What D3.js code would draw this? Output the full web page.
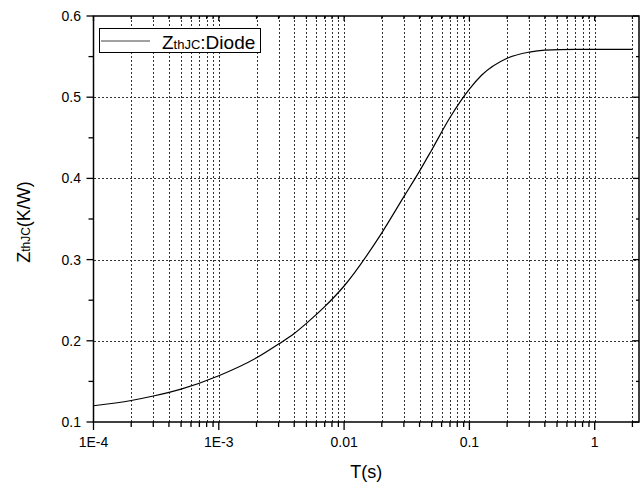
<!DOCTYPE html>
<meta charset="utf-8">
<style>
body { margin: 0; background: #fff; }
svg { font-family: "Liberation Sans", Arial, sans-serif; }
.grid line { stroke: #333; stroke-width: 1; stroke-dasharray: 2,2; shape-rendering: crispEdges; }
.frame { fill: none; stroke: #000; stroke-width: 1.5; }
.tick-lbl { font-size: 14px; fill: #000; }
</style>
<svg width="640" height="483"></svg>
<script src="https://d3js.org/d3.v7.min.js"></script>
<script>

// curve Zth(j-c) of the diode
var tValues   = [1e-4, 2e-4, 3e-4, 5e-4, 1e-3, 2e-3, 3e-3, 4e-3, 5e-3, 7e-3, 0.01, 0.02, 0.03, 0.04, 0.05, 0.07, 0.1, 0.125, 0.2, 0.3, 0.4, 0.7, 1, 2];
var zthValues = [0.120, 0.1265, 0.132, 0.1405, 0.157, 0.179, 0.196, 0.209, 0.2215, 0.242, 0.2675, 0.333, 0.3775, 0.409, 0.435, 0.475, 0.510, 0.527, 0.548, 0.5555, 0.558, 0.559, 0.559, 0.559];

var xMajor = [1e-4, 1e-3, 0.01, 0.1, 1];
var xMajorLabels = ["1E-4", "1E-3", "0.01", "0.1", "1"];
var yMajor = [0.1, 0.2, 0.3, 0.4, 0.5, 0.6];
var yMajorLabels = ["0.1", "0.2", "0.3", "0.4", "0.5", "0.6"];
var yMinor = [0.15, 0.25, 0.35, 0.45, 0.55];

var svg = d3.select("svg");
var pLeft = 93.5, pRight = 639, pTop = 16, pBottom = 422;

var x = d3.scaleLog().domain([1e-4, 2.257]).range([pLeft, pRight]);
var y = d3.scaleLinear().domain([0.1, 0.6]).range([pBottom, pTop]);

var xAll = x.ticks().filter(function(d) { return d <= 2.01; });
var isMajor = function(d) { return xMajor.some(function(m) { return Math.abs(m - d) / m < 1e-6; }); };

// grid
var grid = svg.append("g").attr("class", "grid");
grid.selectAll(".vg")
    .data(xAll.filter(function(d) { return d > 1e-4; }))
  .enter().append("line")
    .attr("x1", function(d) { return Math.round(x(d)) + 0.5; })
    .attr("x2", function(d) { return Math.round(x(d)) + 0.5; })
    .attr("y1", pTop).attr("y2", pBottom);
grid.selectAll(".hg")
    .data(yMajor.slice(1, 5))
  .enter().append("line")
    .attr("x1", pLeft).attr("x2", pRight)
    .attr("y1", function(d) { return Math.round(y(d)) + 0.5; })
    .attr("y2", function(d) { return Math.round(y(d)) + 0.5; });

// curve
var line = d3.line()
    .x(function(d, i) { return x(tValues[i]); })
    .y(function(d) { return y(d); })
    .curve(d3.curveMonotoneX);

svg.append("path")
    .datum(zthValues)
    .attr("d", line)
    .attr("fill", "none")
    .attr("stroke", "#000")
    .attr("stroke-width", 1.2);

// ticks
var ticks = svg.append("g").attr("stroke", "#000").attr("stroke-width", 1.3);
ticks.selectAll(".bt").data(xAll).enter().append("line")
    .attr("x1", function(d) { return x(d); }).attr("x2", function(d) { return x(d); })
    .attr("y1", pBottom).attr("y2", function(d) { return pBottom + (isMajor(d) ? 8 : 5); });
ticks.selectAll(".tt").data(xAll).enter().append("line")
    .attr("x1", function(d) { return x(d); }).attr("x2", function(d) { return x(d); })
    .attr("y1", pTop).attr("y2", function(d) { return pTop + (isMajor(d) ? 5 : 3); });
ticks.selectAll(".lt").data(yMajor.concat(yMinor)).enter().append("line")
    .attr("y1", function(d) { return y(d); }).attr("y2", function(d) { return y(d); })
    .attr("x1", pLeft).attr("x2", function(d) { return pLeft - (yMajor.indexOf(d) >= 0 ? 7 : 5); });
ticks.selectAll(".rt").data(yMajor.concat(yMinor)).enter().append("line")
    .attr("y1", function(d) { return y(d); }).attr("y2", function(d) { return y(d); })
    .attr("x1", pRight).attr("x2", function(d) { return pRight - (yMajor.indexOf(d) >= 0 ? 6 : 3); });

// frame
svg.append("rect").attr("class", "frame")
    .attr("x", pLeft).attr("y", pTop)
    .attr("width", pRight - pLeft).attr("height", pBottom - pTop);

// tick labels
svg.selectAll(".xl").data(xMajor).enter().append("text")
    .attr("class", "tick-lbl")
    .attr("x", function(d) { return x(d); })
    .attr("y", 447)
    .attr("text-anchor", "middle")
    .text(function(d, i) { return xMajorLabels[i]; });
svg.selectAll(".yl").data(yMajor).enter().append("text")
    .attr("class", "tick-lbl")
    .attr("x", 81)
    .attr("y", function(d) { return y(d) + 5; })
    .attr("text-anchor", "end")
    .text(function(d, i) { return yMajorLabels[i]; });

// axis titles
svg.append("text")
    .attr("x", (pLeft + pRight) / 2).attr("y", 478)
    .attr("text-anchor", "middle")
    .attr("font-size", 18)
    .text("T(s)");

var yt = svg.append("text")
    .attr("transform", "translate(30,222) rotate(-90)")
    .attr("text-anchor", "middle")
    .attr("font-size", 18);
yt.append("tspan").text("Z");
yt.append("tspan").attr("font-size", 12).text("thJC");
yt.append("tspan").text("(K/W)");

// legend
var lg = svg.append("g");
lg.append("rect")
    .attr("x", 99.5).attr("y", 28.5).attr("width", 161).attr("height", 24)
    .attr("fill", "#fff").attr("stroke", "#000").attr("stroke-width", 1);
lg.append("line")
    .attr("x1", 101).attr("x2", 150).attr("y1", 41).attr("y2", 41)
    .attr("stroke", "#444").attr("stroke-width", 1.2);
var lt = lg.append("text").attr("x", 162).attr("y", 49).attr("font-size", 19);
lt.append("tspan").text("Z");
lt.append("tspan").attr("font-size", 13).text("thJC");
lt.append("tspan").text(":Diode");

</script>
